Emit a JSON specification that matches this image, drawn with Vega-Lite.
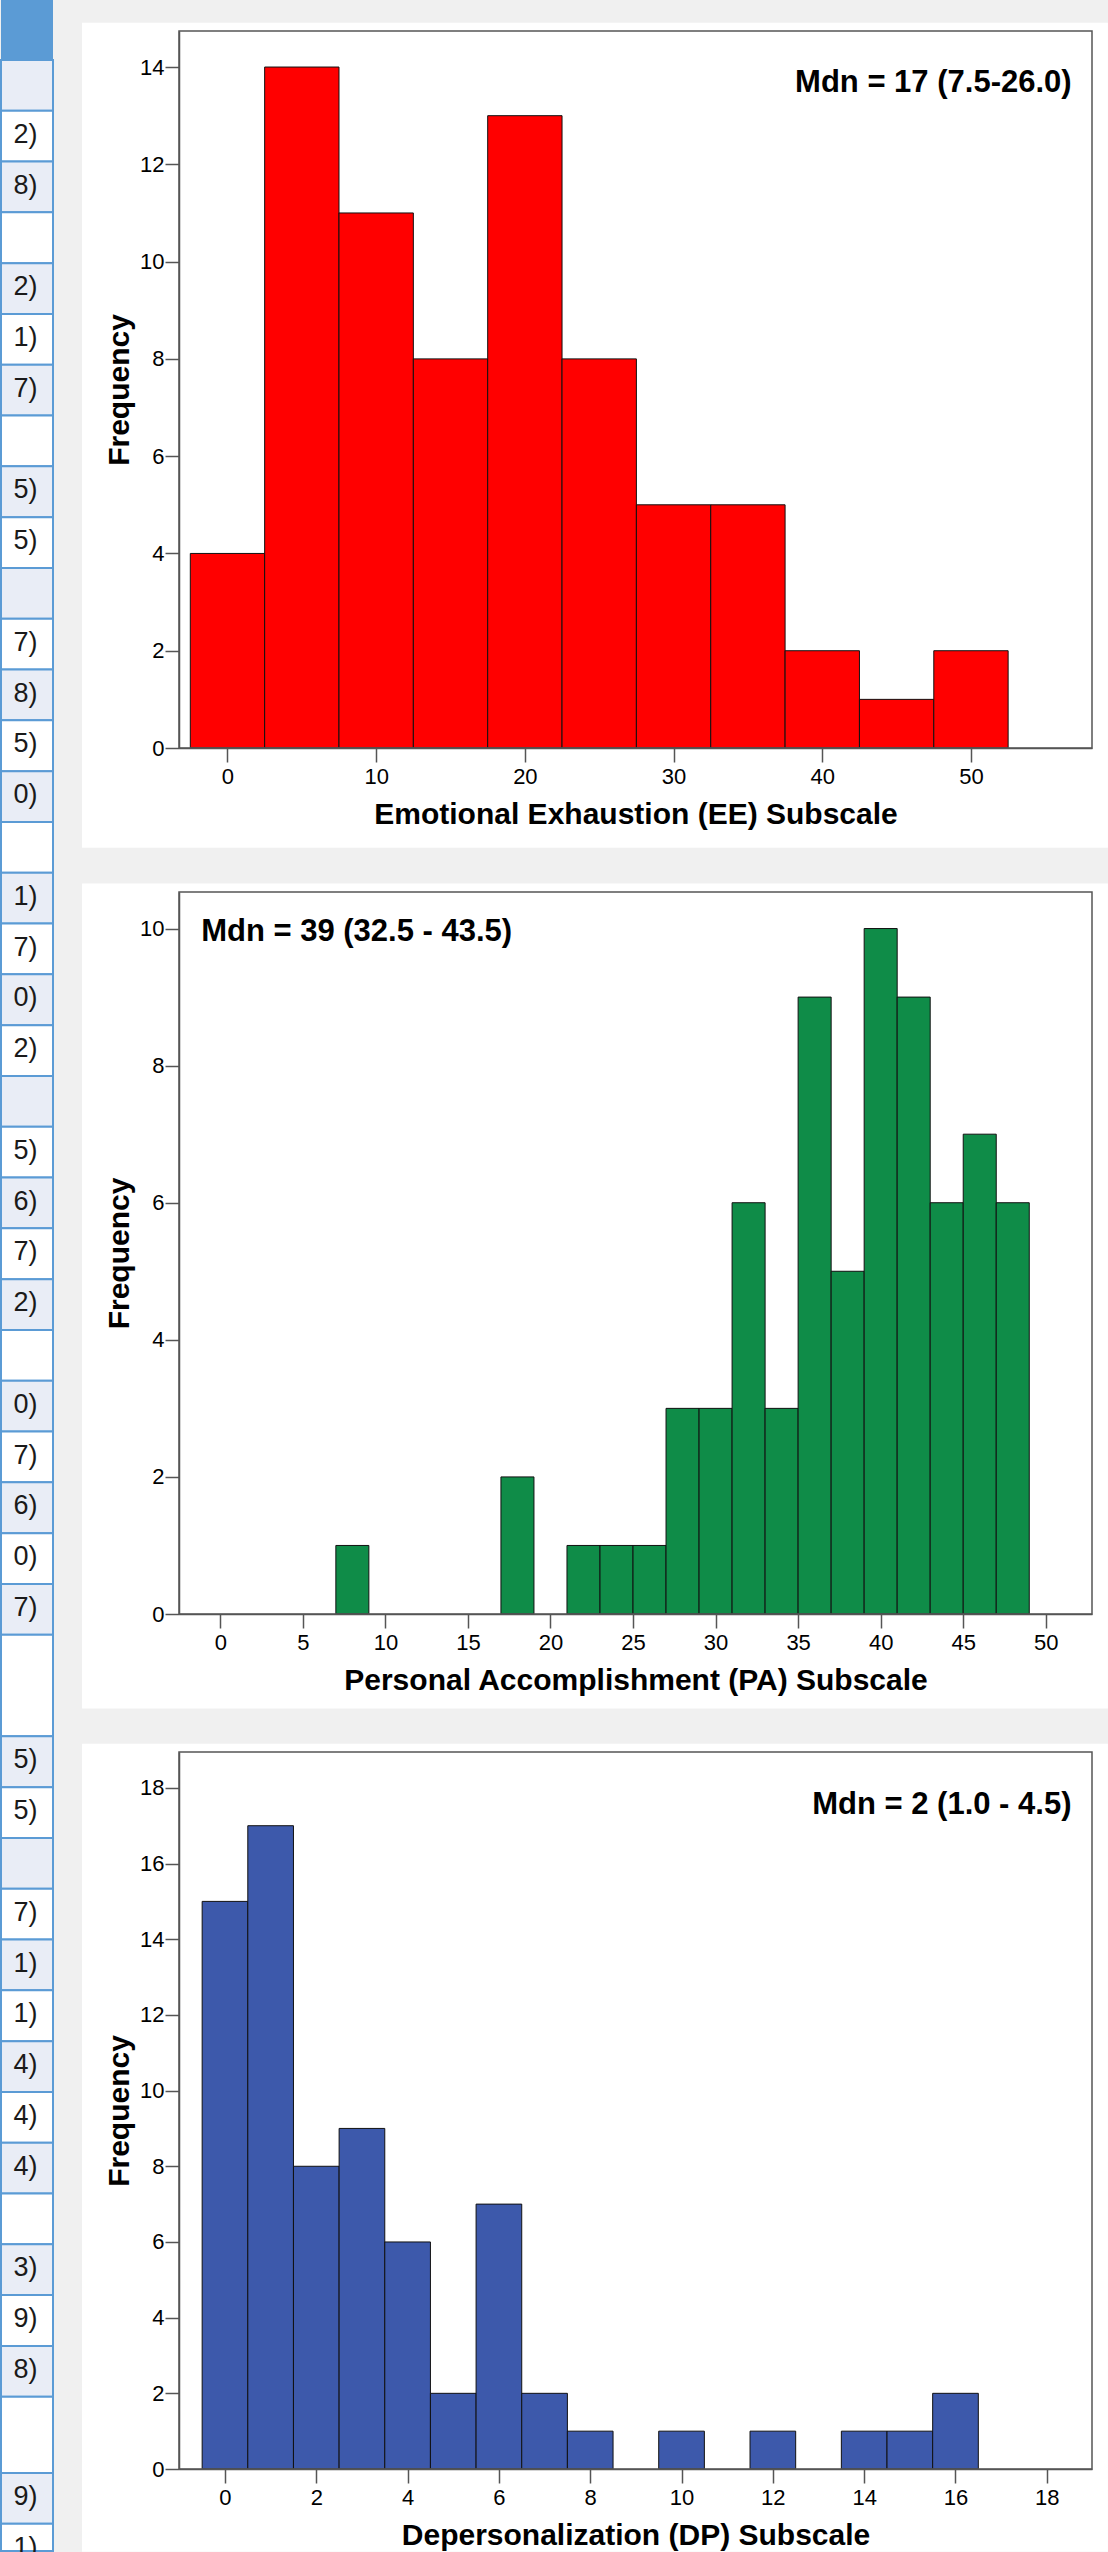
{
  "$schema": "https://vega.github.io/schema/vega-lite/v6.json",
  "background": "#f0f0f0",
  "padding": 0,
  "autosize": {"type": "pad"},
  "config": {
    "view": {"stroke": null},
    "axis": {
      "domainColor": "#555555", "domainWidth": 1.5,
      "tickColor": "#555555", "tickWidth": 1.5, "tickSize": 14,
      "labelFont": "Liberation Sans", "labelFontSize": 22, "labelColor": "#000000",
      "titleFont": "Liberation Sans", "titleFontSize": 30, "titleFontWeight": "bold", "titleColor": "#000000",
      "grid": false, "labelOverlap": false, "labelFlush": false
    },
    "axisX": {"labelPadding": 4, "titlePadding": 12},
    "axisY": {"labelPadding": 1, "titlePadding": 5}
  },
  "datasets": {
    "tbl": [
      {"r0": -1.18, "r1": 0, "s": "h", "t": ""},
      {"r0": 0, "r1": 1, "s": "a", "t": ""},
      {"r0": 1, "r1": 2, "s": "b", "t": "2)"},
      {"r0": 2, "r1": 3, "s": "a", "t": "8)"},
      {"r0": 3, "r1": 4, "s": "b", "t": ""},
      {"r0": 4, "r1": 5, "s": "a", "t": "2)"},
      {"r0": 5, "r1": 6, "s": "b", "t": "1)"},
      {"r0": 6, "r1": 7, "s": "a", "t": "7)"},
      {"r0": 7, "r1": 8, "s": "b", "t": ""},
      {"r0": 8, "r1": 9, "s": "a", "t": "5)"},
      {"r0": 9, "r1": 10, "s": "b", "t": "5)"},
      {"r0": 10, "r1": 11, "s": "a", "t": ""},
      {"r0": 11, "r1": 12, "s": "b", "t": "7)"},
      {"r0": 12, "r1": 13, "s": "a", "t": "8)"},
      {"r0": 13, "r1": 14, "s": "b", "t": "5)"},
      {"r0": 14, "r1": 15, "s": "a", "t": "0)"},
      {"r0": 15, "r1": 16, "s": "b", "t": ""},
      {"r0": 16, "r1": 17, "s": "a", "t": "1)"},
      {"r0": 17, "r1": 18, "s": "b", "t": "7)"},
      {"r0": 18, "r1": 19, "s": "a", "t": "0)"},
      {"r0": 19, "r1": 20, "s": "b", "t": "2)"},
      {"r0": 20, "r1": 21, "s": "a", "t": ""},
      {"r0": 21, "r1": 22, "s": "b", "t": "5)"},
      {"r0": 22, "r1": 23, "s": "a", "t": "6)"},
      {"r0": 23, "r1": 24, "s": "b", "t": "7)"},
      {"r0": 24, "r1": 25, "s": "a", "t": "2)"},
      {"r0": 25, "r1": 26, "s": "b", "t": ""},
      {"r0": 26, "r1": 27, "s": "a", "t": "0)"},
      {"r0": 27, "r1": 28, "s": "b", "t": "7)"},
      {"r0": 28, "r1": 29, "s": "a", "t": "6)"},
      {"r0": 29, "r1": 30, "s": "b", "t": "0)"},
      {"r0": 30, "r1": 31, "s": "a", "t": "7)"},
      {"r0": 31, "r1": 33, "s": "b", "t": ""},
      {"r0": 33, "r1": 34, "s": "a", "t": "5)"},
      {"r0": 34, "r1": 35, "s": "b", "t": "5)"},
      {"r0": 35, "r1": 36, "s": "a", "t": ""},
      {"r0": 36, "r1": 37, "s": "b", "t": "7)"},
      {"r0": 37, "r1": 38, "s": "a", "t": "1)"},
      {"r0": 38, "r1": 39, "s": "b", "t": "1)"},
      {"r0": 39, "r1": 40, "s": "a", "t": "4)"},
      {"r0": 40, "r1": 41, "s": "b", "t": "4)"},
      {"r0": 41, "r1": 42, "s": "a", "t": "4)"},
      {"r0": 42, "r1": 43, "s": "b", "t": ""},
      {"r0": 43, "r1": 44, "s": "a", "t": "3)"},
      {"r0": 44, "r1": 45, "s": "b", "t": "9)"},
      {"r0": 45, "r1": 46, "s": "a", "t": "8)"},
      {"r0": 46, "r1": 47.5, "s": "b", "t": ""},
      {"r0": 47.5, "r1": 48.5, "s": "a", "t": "9)"},
      {"r0": 48.5, "r1": 49.037, "s": "b", "t": "1)"}
    ],
    "ee": [
      {"lo": -2.5, "hi": 2.5, "count": 4},
      {"lo": 2.5, "hi": 7.5, "count": 14},
      {"lo": 7.5, "hi": 12.5, "count": 11},
      {"lo": 12.5, "hi": 17.5, "count": 8},
      {"lo": 17.5, "hi": 22.5, "count": 13},
      {"lo": 22.5, "hi": 27.5, "count": 8},
      {"lo": 27.5, "hi": 32.5, "count": 5},
      {"lo": 32.5, "hi": 37.5, "count": 5},
      {"lo": 37.5, "hi": 42.5, "count": 2},
      {"lo": 42.5, "hi": 47.5, "count": 1},
      {"lo": 47.5, "hi": 52.5, "count": 2}
    ],
    "pa": [
      {"lo": 7, "hi": 9, "count": 1},
      {"lo": 17, "hi": 19, "count": 2},
      {"lo": 21, "hi": 23, "count": 1},
      {"lo": 23, "hi": 25, "count": 1},
      {"lo": 25, "hi": 27, "count": 1},
      {"lo": 27, "hi": 29, "count": 3},
      {"lo": 29, "hi": 31, "count": 3},
      {"lo": 31, "hi": 33, "count": 6},
      {"lo": 33, "hi": 35, "count": 3},
      {"lo": 35, "hi": 37, "count": 9},
      {"lo": 37, "hi": 39, "count": 5},
      {"lo": 39, "hi": 41, "count": 10},
      {"lo": 41, "hi": 43, "count": 9},
      {"lo": 43, "hi": 45, "count": 6},
      {"lo": 45, "hi": 47, "count": 7},
      {"lo": 47, "hi": 49, "count": 6}
    ],
    "dp": [
      {"lo": -0.5, "hi": 0.5, "count": 15},
      {"lo": 0.5, "hi": 1.5, "count": 17},
      {"lo": 1.5, "hi": 2.5, "count": 8},
      {"lo": 2.5, "hi": 3.5, "count": 9},
      {"lo": 3.5, "hi": 4.5, "count": 6},
      {"lo": 4.5, "hi": 5.5, "count": 2},
      {"lo": 5.5, "hi": 6.5, "count": 7},
      {"lo": 6.5, "hi": 7.5, "count": 2},
      {"lo": 7.5, "hi": 8.5, "count": 1},
      {"lo": 9.5, "hi": 10.5, "count": 1},
      {"lo": 11.5, "hi": 12.5, "count": 1},
      {"lo": 13.5, "hi": 14.5, "count": 1},
      {"lo": 14.5, "hi": 15.5, "count": 1},
      {"lo": 15.5, "hi": 16.5, "count": 2}
    ]
  },
  "spacing": 28,
  "hconcat": [
    {
      "width": 52,
      "height": 2520,
      "data": {"name": "tbl"},
      "layer": [
        {
          "transform": [{"filter": "datum.s == 'h'"}],
          "mark": {"type": "rect", "fill": "#5b9bd5"},
          "encoding": {
            "x": {"datum": 0, "type": "quantitative", "scale": {"domain": [0, 1], "nice": false, "zero": false}, "axis": null},
            "x2": {"datum": 1},
            "y": {"field": "r0", "type": "quantitative", "scale": {"domain": [-0.5698, 49.037], "reverse": true, "nice": false, "zero": false}, "axis": null},
            "y2": {"field": "r1"}
          }
        },
        {
          "transform": [{"filter": "datum.s != 'h'"}],
          "mark": {"type": "rect", "stroke": "#5b9bd5", "strokeWidth": 2},
          "encoding": {
            "x": {"datum": 0, "type": "quantitative", "scale": {"domain": [0, 1], "nice": false, "zero": false}, "axis": null},
            "x2": {"datum": 1},
            "y": {"field": "r0", "type": "quantitative", "scale": {"domain": [-0.5698, 49.037], "reverse": true, "nice": false, "zero": false}, "axis": null},
            "y2": {"field": "r1"},
            "fill": {"field": "s", "type": "nominal", "scale": {"domain": ["a", "b"], "range": ["#e9edf6", "#ffffff"]}, "legend": null}
          }
        },
        {
          "transform": [{"filter": "datum.t != ''"}],
          "mark": {"type": "text", "align": "right", "baseline": "top", "dy": 11, "font": "Liberation Sans", "fontSize": 27, "color": "#1a1a1a"},
          "encoding": {
            "x": {"datum": 0.7, "type": "quantitative", "scale": {"domain": [0, 1], "nice": false, "zero": false}, "axis": null},
            "y": {"field": "r0", "type": "quantitative", "scale": {"domain": [-0.5698, 49.037], "reverse": true, "nice": false, "zero": false}, "axis": null},
            "text": {"field": "t"}
          }
        }
      ]
    },
    {
      "spacing": 35,
      "vconcat": [
        {
          "width": 913,
          "height": 717,
          "layer": [
            {
              "data": {"values": [{}]},
              "mark": {"type": "rect", "fill": "#ffffff"},
              "encoding": {
                "x": {"datum": -9.783, "type": "quantitative", "scale": {"domain": [-3.26, 58.14], "nice": false, "zero": false},
                      "axis": {"title": "Emotional Exhaustion (EE) Subscale", "values": [0, 10, 20, 30, 40, 50], "zindex": 1}},
                "x2": {"datum": 59.209},
                "y": {"datum": -2.05, "type": "quantitative", "scale": {"domain": [0, 14.741], "nice": false, "zero": false},
                      "axis": {"title": "Frequency", "values": [0, 2, 4, 6, 8, 10, 12, 14], "zindex": 1}},
                "y2": {"datum": 14.912}
              }
            },
            {
              "data": {"name": "ee"},
              "mark": {"type": "rect", "fill": "#ff0000", "stroke": "#111111", "strokeWidth": 1},
              "encoding": {
                "x": {"field": "lo", "type": "quantitative", "scale": {"domain": [-3.26, 58.14], "nice": false, "zero": false},
                      "axis": {"title": "Emotional Exhaustion (EE) Subscale", "values": [0, 10, 20, 30, 40, 50], "zindex": 1}},
                "x2": {"field": "hi"},
                "y": {"field": "count", "type": "quantitative", "scale": {"domain": [0, 14.741], "nice": false, "zero": false},
                      "axis": {"title": "Frequency", "values": [0, 2, 4, 6, 8, 10, 12, 14], "zindex": 1}},
                "y2": {"datum": 0}
              }
            },
            {
              "data": {"values": [{}]},
              "mark": {"type": "rect", "fillOpacity": 0, "stroke": "#555555", "strokeWidth": 1.5},
              "encoding": {
                "x": {"datum": -3.26, "type": "quantitative", "scale": {"domain": [-3.26, 58.14], "nice": false, "zero": false},
                      "axis": {"title": "Emotional Exhaustion (EE) Subscale", "values": [0, 10, 20, 30, 40, 50], "zindex": 1}},
                "x2": {"datum": 58.14},
                "y": {"datum": 0, "type": "quantitative", "scale": {"domain": [0, 14.741], "nice": false, "zero": false},
                      "axis": {"title": "Frequency", "values": [0, 2, 4, 6, 8, 10, 12, 14], "zindex": 1}},
                "y2": {"datum": 14.741}
              }
            },
            {
              "data": {"values": [{"label": "Mdn = 17 (7.5-26.0)"}]},
              "mark": {"type": "text", "align": "right", "baseline": "alphabetic", "font": "Liberation Sans", "fontSize": 31, "fontWeight": "bold", "color": "#000000"},
              "encoding": {
                "x": {"datum": 56.77, "type": "quantitative", "scale": {"domain": [-3.26, 58.14], "nice": false, "zero": false},
                      "axis": {"title": "Emotional Exhaustion (EE) Subscale", "values": [0, 10, 20, 30, 40, 50], "zindex": 1}},
                "y": {"datum": 13.49, "type": "quantitative", "scale": {"domain": [0, 14.741], "nice": false, "zero": false},
                      "axis": {"title": "Frequency", "values": [0, 2, 4, 6, 8, 10, 12, 14], "zindex": 1}},
                "text": {"field": "label"}
              }
            }
          ]
        },
        {
          "spacing": 34,
          "vconcat": [
            {
              "width": 913,
              "height": 722,
              "layer": [
                {
                  "data": {"values": [{}]},
                  "mark": {"type": "rect", "fill": "#ffffff"},
                  "encoding": {
                    "x": {"datum": -8.375, "type": "quantitative", "scale": {"domain": [-2.5, 52.8], "nice": false, "zero": false},
                          "axis": {"title": "Personal Accomplishment (PA) Subscale", "values": [0, 5, 10, 15, 20, 25, 30, 35, 40, 45, 50], "zindex": 1}},
                    "x2": {"datum": 53.763},
                    "y": {"datum": -1.38, "type": "quantitative", "scale": {"domain": [0, 10.533], "nice": false, "zero": false},
                          "axis": {"title": "Frequency", "values": [0, 2, 4, 6, 8, 10], "zindex": 1}},
                    "y2": {"datum": 10.658}
                  }
                },
                {
                  "data": {"name": "pa"},
                  "mark": {"type": "rect", "fill": "#0f8c48", "stroke": "#111111", "strokeWidth": 1},
                  "encoding": {
                    "x": {"field": "lo", "type": "quantitative", "scale": {"domain": [-2.5, 52.8], "nice": false, "zero": false},
                          "axis": {"title": "Personal Accomplishment (PA) Subscale", "values": [0, 5, 10, 15, 20, 25, 30, 35, 40, 45, 50], "zindex": 1}},
                    "x2": {"field": "hi"},
                    "y": {"field": "count", "type": "quantitative", "scale": {"domain": [0, 10.533], "nice": false, "zero": false},
                          "axis": {"title": "Frequency", "values": [0, 2, 4, 6, 8, 10], "zindex": 1}},
                    "y2": {"datum": 0}
                  }
                },
                {
                  "data": {"values": [{}]},
                  "mark": {"type": "rect", "fillOpacity": 0, "stroke": "#555555", "strokeWidth": 1.5},
                  "encoding": {
                    "x": {"datum": -2.5, "type": "quantitative", "scale": {"domain": [-2.5, 52.8], "nice": false, "zero": false},
                          "axis": {"title": "Personal Accomplishment (PA) Subscale", "values": [0, 5, 10, 15, 20, 25, 30, 35, 40, 45, 50], "zindex": 1}},
                    "x2": {"datum": 52.8},
                    "y": {"datum": 0, "type": "quantitative", "scale": {"domain": [0, 10.533], "nice": false, "zero": false},
                          "axis": {"title": "Frequency", "values": [0, 2, 4, 6, 8, 10], "zindex": 1}},
                    "y2": {"datum": 10.533}
                  }
                },
                {
                  "data": {"values": [{"label": "Mdn = 39 (32.5 - 43.5)"}]},
                  "mark": {"type": "text", "align": "left", "baseline": "alphabetic", "font": "Liberation Sans", "fontSize": 31, "fontWeight": "bold", "color": "#000000"},
                  "encoding": {
                    "x": {"datum": -1.157, "type": "quantitative", "scale": {"domain": [-2.5, 52.8], "nice": false, "zero": false},
                          "axis": {"title": "Personal Accomplishment (PA) Subscale", "values": [0, 5, 10, 15, 20, 25, 30, 35, 40, 45, 50], "zindex": 1}},
                    "y": {"datum": 9.823, "type": "quantitative", "scale": {"domain": [0, 10.533], "nice": false, "zero": false},
                          "axis": {"title": "Frequency", "values": [0, 2, 4, 6, 8, 10], "zindex": 1}},
                    "text": {"field": "label"}
                  }
                }
              ]
            },
            {
              "width": 913,
              "height": 717,
              "layer": [
                {
                  "data": {"values": [{}]},
                  "mark": {"type": "rect", "fill": "#ffffff"},
                  "encoding": {
                    "x": {"datum": -3.131, "type": "quantitative", "scale": {"domain": [-1.007, 18.99], "nice": false, "zero": false},
                          "axis": {"title": "Depersonalization (DP) Subscale", "values": [0, 2, 4, 6, 8, 10, 12, 14, 16, 18], "zindex": 1}},
                    "x2": {"datum": 19.338},
                    "y": {"datum": -2.19, "type": "quantitative", "scale": {"domain": [0, 18.948], "nice": false, "zero": false},
                          "axis": {"title": "Frequency", "values": [0, 2, 4, 6, 8, 10, 12, 14, 16, 18], "zindex": 1}},
                    "y2": {"datum": 19.167}
                  }
                },
                {
                  "data": {"name": "dp"},
                  "mark": {"type": "rect", "fill": "#3d59ab", "stroke": "#111111", "strokeWidth": 1},
                  "encoding": {
                    "x": {"field": "lo", "type": "quantitative", "scale": {"domain": [-1.007, 18.99], "nice": false, "zero": false},
                          "axis": {"title": "Depersonalization (DP) Subscale", "values": [0, 2, 4, 6, 8, 10, 12, 14, 16, 18], "zindex": 1}},
                    "x2": {"field": "hi"},
                    "y": {"field": "count", "type": "quantitative", "scale": {"domain": [0, 18.948], "nice": false, "zero": false},
                          "axis": {"title": "Frequency", "values": [0, 2, 4, 6, 8, 10, 12, 14, 16, 18], "zindex": 1}},
                    "y2": {"datum": 0}
                  }
                },
                {
                  "data": {"values": [{}]},
                  "mark": {"type": "rect", "fillOpacity": 0, "stroke": "#555555", "strokeWidth": 1.5},
                  "encoding": {
                    "x": {"datum": -1.007, "type": "quantitative", "scale": {"domain": [-1.007, 18.99], "nice": false, "zero": false},
                          "axis": {"title": "Depersonalization (DP) Subscale", "values": [0, 2, 4, 6, 8, 10, 12, 14, 16, 18], "zindex": 1}},
                    "x2": {"datum": 18.99},
                    "y": {"datum": 0, "type": "quantitative", "scale": {"domain": [0, 18.948], "nice": false, "zero": false},
                          "axis": {"title": "Frequency", "values": [0, 2, 4, 6, 8, 10, 12, 14, 16, 18], "zindex": 1}},
                    "y2": {"datum": 18.948}
                  }
                },
                {
                  "data": {"values": [{"label": "Mdn = 2 (1.0 - 4.5)"}]},
                  "mark": {"type": "text", "align": "right", "baseline": "alphabetic", "font": "Liberation Sans", "fontSize": 31, "fontWeight": "bold", "color": "#000000"},
                  "encoding": {
                    "x": {"datum": 18.54, "type": "quantitative", "scale": {"domain": [-1.007, 18.99], "nice": false, "zero": false},
                          "axis": {"title": "Depersonalization (DP) Subscale", "values": [0, 2, 4, 6, 8, 10, 12, 14, 16, 18], "zindex": 1}},
                    "y": {"datum": 17.31, "type": "quantitative", "scale": {"domain": [0, 18.948], "nice": false, "zero": false},
                          "axis": {"title": "Frequency", "values": [0, 2, 4, 6, 8, 10, 12, 14, 16, 18], "zindex": 1}},
                    "text": {"field": "label"}
                  }
                }
              ]
            }
          ]
        }
      ]
    }
  ]
}
